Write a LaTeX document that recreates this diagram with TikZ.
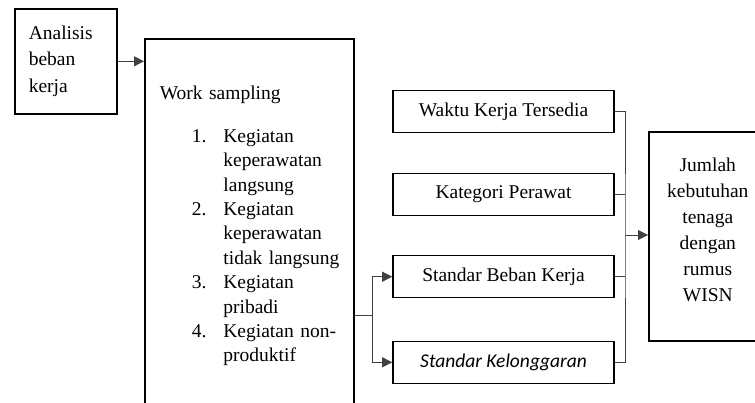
\documentclass[tikz,border=0pt]{standalone}
\usepackage{fontspec}
\newfontfamily\timesfont{Liberation Serif}
\newfontfamily\calibri{Carlito}
\usetikzlibrary{positioning, arrows.meta}
\tikzset{
box/.style={
	draw,
	line width=1.6pt,
	inner sep=0pt,
	align=center,
	font=\timesfont\fontsize{19.5}{24.4}\selectfont,
},
factor/.style={
	box,
	minimum width=221pt,
	minimum height=42pt,
},
link/.style={
	line width=0.8pt,
	draw=black!75,
},
connection/.style={
	link,
	-{Triangle[length=10pt, width=10pt]},
}
}

\begin{document}
\begin{tikzpicture}[x=1pt, y=-1pt]
		\clip (0,0) rectangle (755,403);
		% Analisis beban kerja
		\node[box, anchor=north west, minimum width=102pt, minimum height=105pt,
			text width=74pt, align=left, font=\timesfont\fontsize{19.5}{26.5}\selectfont]
			(analisis) at (14,8) {Analisis\\beban\\kerja};
		% Work sampling
		\node[box, anchor=north west, minimum width=209pt, minimum height=378pt,
			text width=179pt, align=left] (ws) at (144,38) {Work sampling\\[18pt]
			\begin{tabular}[t]{@{\hspace{32pt}}r@{\hspace{17pt}}l@{}}
			1. & Kegiatan\\ & keperawatan\\ & langsung\\
			2. & Kegiatan\\ & keperawatan\\ & tidak langsung\\
			3. & Kegiatan\\ & pribadi\\
			4. & Kegiatan non-\\ & produktif
			\end{tabular}};
		% Faktor WISN
		\node[factor] (waktu) at (503.5,111.5) {Waktu Kerja Tersedia};
		\node[factor, below = 39.5pt of waktu] (kategori) {Kategori Perawat};
		\node[factor, below = 38.5pt of kategori] (beban) {Standar Beban Kerja};
		\node[factor, below = 42pt of beban] (kelonggaran) {\calibri\itshape Standar Kelonggaran};
		% Hasil
		\node[box, anchor=north west, minimum width=118pt, minimum height=209pt,
			font=\timesfont\fontsize{19.5}{26}\selectfont]
			(jumlah) at (648,131) {Jumlah\\kebutuhan\\tenaga\\dengan\\rumus\\WISN\\[-12pt]\mbox{}};
		
		% Connections
		\coordinate (fork) at (372,315);
		\coordinate (merge) at (625,235);
		
		% analisis ->
		\draw[connection] (analisis.east) -- (analisis.east -| ws.west);
		
		% ws ->
		\draw[link] (ws.east |- fork) -- (fork);
		\draw[connection] (fork) |- (beban);
		\draw[connection] (fork) |- (kelonggaran);
		
		% faktor -> jumlah
		\draw[link] (waktu.east) -| (merge) |- (kelonggaran.east);
		\draw[link] (kategori.east) -- (kategori.east -| merge);
		\draw[link] (beban.east) -- (beban.east -| merge);
		\draw[connection] (merge) -- (merge -| jumlah.west);
	\end{tikzpicture}
\end{document}
